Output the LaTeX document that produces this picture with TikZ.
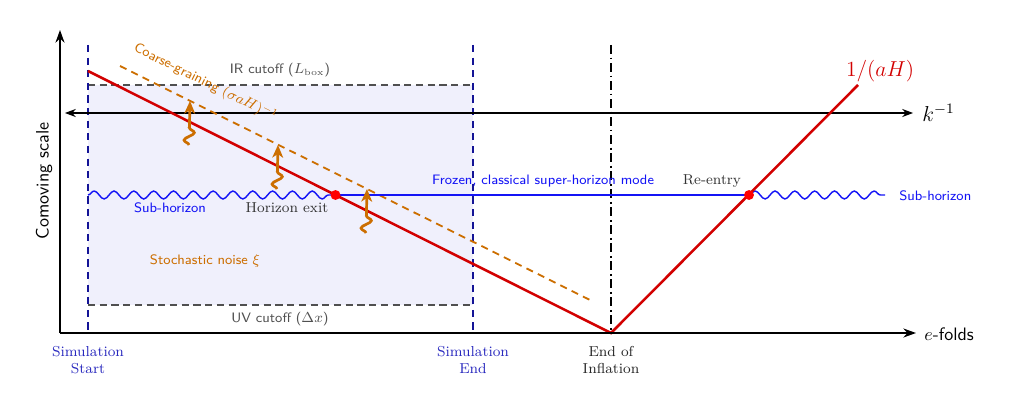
\documentclass[tikz,border=0pt]{standalone}
\usetikzlibrary{arrows.meta,decorations.pathmorphing}
\definecolor{redline}{RGB}{210,0,0}
\definecolor{navy}{RGB}{20,20,150}
\definecolor{simblue}{RGB}{40,40,190}
\definecolor{ochre}{RGB}{204,110,0}
\definecolor{boxfill}{RGB}{240,240,252}
\definecolor{cutgray}{RGB}{80,80,80}
\definecolor{modeblue}{RGB}{20,20,245}
\begin{document}
\begin{tikzpicture}[x=0.555pt,y=-0.555pt,
  axis/.style={line width=1pt,-{Stealth[length=7pt,width=5pt]}},
  simline/.style={navy,dashed,line width=1pt,dash pattern=on 4pt off 3pt},
  cutline/.style={cutgray,line width=0.9pt,dash pattern=on 4pt off 2.5pt},
  horizon/.style={redline,line width=1.4pt},
  wave/.style={modeblue,line width=0.8pt,decorate,decoration={snake,amplitude=2.2pt,segment length=11pt}},
  kick/.style={ochre,line width=1.5pt,-{Stealth[length=7pt,width=6pt,inset=2pt]},decorate,decoration={snake,amplitude=2.8pt,segment length=8.5pt,post length=12pt}},
  dot/.style={circle,fill=red,inner sep=0pt,minimum size=5.5pt},
  lab/.style={font=\footnotesize},
  slab/.style={font=\sffamily\fontsize{7.6}{9}\selectfont}]
\useasboundingbox (0,0) rectangle (1010,401);
% coordinates
\coordinate (O) at (60,333);
\coordinate (Ytop) at (60,30);
\coordinate (Xend) at (916,333);
\coordinate (SSt) at (88,45);  \coordinate (SSb) at (88,333);
\coordinate (SEt) at (473,45); \coordinate (SEb) at (473,333);
\coordinate (EIt) at (611,45); \coordinate (EIb) at (611,333);
\coordinate (IRl) at (88,85);  \coordinate (IRr) at (473,85);
\coordinate (UVl) at (88,305); \coordinate (UVr) at (473,305);
\coordinate (Rstart) at (88,71);
\coordinate (Rmin) at (611,333);
\coordinate (Rtop) at (858,85);
\coordinate (WaveL) at (88,195);
\coordinate (WaveR) at (885,195);
\coordinate (Kl) at (65,113); \coordinate (Kr) at (913,113);
\coordinate (CGs) at (120,66); \coordinate (CGe) at (590,300);
\coordinate (K1a) at (189,145); \coordinate (K1b) at (190,101);
\coordinate (K2a) at (277,189); \coordinate (K2b) at (278,145);
\coordinate (K3a) at (366,233); \coordinate (K3b) at (367,189);
% box
\fill[boxfill] (IRl) rectangle (UVr);
\draw[cutline] (IRl) -- (IRr);
\draw[cutline] (UVl) -- (UVr);
\node[slab,text=cutgray] (irlab) at (280,70) {IR cutoff ($L_{\mathrm{box}}$)};
\node[slab,text=cutgray] (uvlab) at (280,319) {UV cutoff ($\Delta x$)};
% vertical markers
\draw[simline] (SSt) -- (SSb);
\draw[simline] (SEt) -- (SEb);
\draw[line width=1pt,dash pattern=on 5pt off 2pt on 1pt off 2pt] (EIt) -- (EIb);
% k^-1
\draw[line width=0.6pt,{Stealth[length=6pt,width=4.5pt]}-{Stealth[length=6pt,width=4.5pt]}] (Kl) -- (Kr);
\node[anchor=west,font=\large] (klab) at (916,113) {$k^{-1}$};
% coarse graining
\draw[ochre,line width=1pt,dash pattern=on 4pt off 3pt] (CGs) -- (CGe)
  node[pos=0.16,sloped,above=5pt,slab,text=ochre] (cglab) {Coarse-graining $(\sigma a H)^{-1}$};
% mode
\draw[wave] (WaveL) -- (335.5,195);
\draw[modeblue,line width=0.9pt] (335.5,195) -- (749,195);
\draw[wave] (749,195) -- (WaveR);
% horizon
\draw[horizon] (Rstart) -- (Rmin) -- (Rtop);
\node[redline,font=\large] (aHlab) at (880,71) {$1/(aH)$};
\node[dot] (exit) at (335.5,195) {};
\node[dot] (reentry) at (749,195) {};
% kicks
\draw[kick] (K1a) -- (K1b);
\draw[kick] (K2a) -- (K2b);
\draw[kick] (K3a) -- (K3b);
% labels
\node[slab,text=modeblue] (sublab) at (170,208) {Sub-horizon};
\node[lab,text=black!80] (exitlab) at (287,208) {Horizon exit};
\node[slab,text=modeblue] (frozen) at (543,181) {Frozen, classical super-horizon mode};
\node[lab,text=black!80] (relab) at (712,181) {Re-entry};
\node[slab,text=modeblue,anchor=west] (sub2) at (893,196) {Sub-horizon};
\node[slab,text=ochre] (noise) at (205,261) {Stochastic noise $\xi$};
% axes
\draw[axis] (O) -- (Ytop);
\draw[axis] (O) -- (Xend);
\node[anchor=west,font=\sffamily] (xlab) at (918,334) {$e$-folds};
\node[rotate=90,font=\sffamily] (ylab) at (44,181) {Comoving scale};
\node[lab,text=simblue,align=center,anchor=north] (ss) at (88,340) {Simulation\\Start};
\node[lab,text=simblue,align=center,anchor=north] (se) at (473,340) {Simulation\\End};
\node[lab,text=black!85,align=center,anchor=north] (ei) at (611,340) {End of\\Inflation};
\end{tikzpicture}
\end{document}
